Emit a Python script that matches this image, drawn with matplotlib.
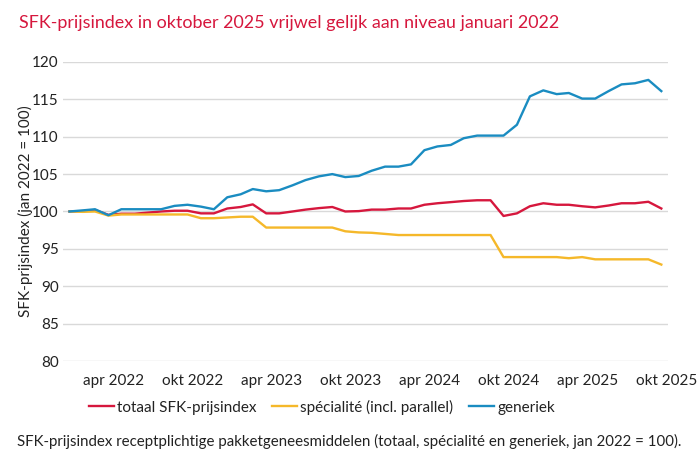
import matplotlib
matplotlib.use("Agg")
import matplotlib.pyplot as plt
import matplotlib.transforms as mtransforms
import pandas as pd

plt.rcParams["font.family"] = ["Lato", "DejaVu Sans"]

# maandelijkse reeksen jan 2022 t/m okt 2025
months = pd.date_range("2022-01-01", "2025-10-01", freq="MS")

totaal = [100.0, 100.05, 100.2, 99.55, 99.7, 99.7, 99.85, 100.0, 100.1, 100.1,
          99.75, 99.75, 100.4, 100.6, 100.95, 99.75, 99.75, 100.0, 100.25, 100.45,
          100.6, 100.0, 100.05, 100.25, 100.25, 100.4, 100.4, 100.9, 101.1, 101.25,
          101.4, 101.5, 101.5, 99.4, 99.75, 100.7, 101.1, 100.9, 100.9, 100.7,
          100.55, 100.8, 101.1, 101.1, 101.3, 100.4]

specialite = [100.0, 99.95, 100.0, 99.45, 99.6, 99.6, 99.6, 99.6, 99.6, 99.6,
              99.1, 99.1, 99.2, 99.3, 99.3, 97.85, 97.85, 97.85, 97.85, 97.85,
              97.85, 97.35, 97.2, 97.15, 97.0, 96.85, 96.85, 96.85, 96.85, 96.85,
              96.85, 96.85, 96.85, 93.9, 93.9, 93.9, 93.9, 93.9, 93.75, 93.9,
              93.6, 93.6, 93.6, 93.6, 93.6, 92.9]

generiek = [100.0, 100.15, 100.3, 99.5, 100.3, 100.3, 100.3, 100.3, 100.75, 100.9,
            100.65, 100.3, 101.9, 102.3, 103.0, 102.7, 102.85, 103.5, 104.2, 104.7,
            105.0, 104.6, 104.75, 105.45, 106.0, 106.0, 106.3, 108.2, 108.7, 108.9,
            109.8, 110.15, 110.15, 110.15, 111.6, 115.4, 116.2, 115.7, 115.85, 115.1,
            115.1, 116.1, 117.0, 117.15, 117.6, 116.1]

tick_dates = pd.to_datetime(["2022-04-01", "2022-10-01", "2023-04-01", "2023-10-01",
                             "2024-04-01", "2024-10-01", "2025-04-01", "2025-10-01"])
tick_labels = ["apr 2022", "okt 2022", "apr 2023", "okt 2023",
               "apr 2024", "okt 2024", "apr 2025", "okt 2025"]
y_ticks = [80, 85, 90, 95, 100, 105, 110, 115, 120]

RED = "#d6173d"
YELLOW = "#f5b82a"
BLUE = "#1a8cc1"
TXT = "#222222"

fig = plt.figure(figsize=(7, 4.59), dpi=100)
ax = fig.add_axes([0.09, 0.2135, 0.864, 0.6515])

ax.plot(months, totaal, color=RED, lw=1.7, label="totaal SFK-prijsindex", zorder=3)
ax.plot(months, specialite, color=YELLOW, lw=1.7, label="spécialité (incl. parallel)", zorder=3)
ax.plot(months, generiek, color=BLUE, lw=1.7, label="generiek", zorder=4)

ax.set_ylim(80, 120)
ax.set_xlim(months[0] - pd.Timedelta(days=15), months[-1] + pd.Timedelta(days=15))
ax.set_yticks(y_ticks)
ax.set_xticks(tick_dates)
ax.set_xticklabels(tick_labels)
ax.grid(True, axis="y", color="#d9d9d9", lw=1, zorder=0)
for spine in ax.spines.values():
    spine.set_visible(False)
ax.tick_params(axis="both", length=0, labelsize=11, colors=TXT)
ax.tick_params(axis="y", pad=3)
ax.tick_params(axis="x", pad=9)

# labels iets naar rechts, zoals in het origineel
shift = mtransforms.ScaledTranslation(0.05, 0, fig.dpi_scale_trans)
for lbl in ax.get_xticklabels():
    lbl.set_transform(lbl.get_transform() + shift)

ax.set_ylabel("SFK-prijsindex (jan 2022 = 100)", fontsize=11, color=TXT)
ax.yaxis.set_label_coords(-0.05, 0.5)

fig.text(19 / 700, 1 - 23 / 459, "SFK-prijsindex in oktober 2025 vrijwel gelijk aan niveau januari 2022",
         color=RED, fontsize=12.85, ha="left", va="center")

fig.legend(loc="center", bbox_to_anchor=(322 / 700, 1 - 407 / 459), ncol=3, frameon=False,
           fontsize=11, handlelength=1.65, handletextpad=0.2, columnspacing=1.0,
           labelcolor=TXT)

fig.text(17 / 700, 1 - 441 / 459,
         "SFK-prijsindex receptplichtige pakketgeneesmiddelen (totaal, spécialité en generiek, jan 2022 = 100).",
         color=TXT, fontsize=10.85, ha="left", va="center")

fig.savefig("out.png", dpi=100)
